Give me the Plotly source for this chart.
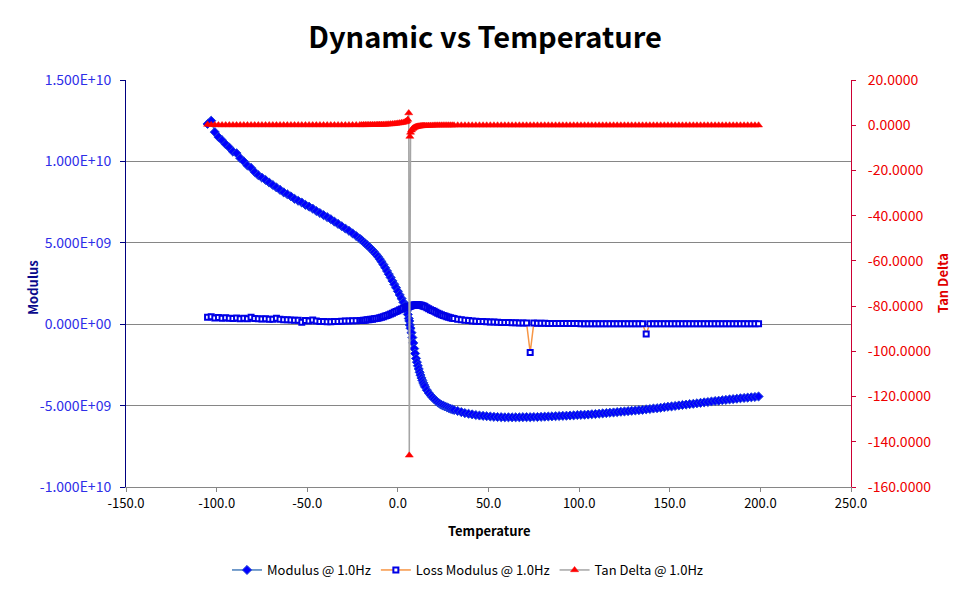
import plotly.graph_objects as go

# Temperature (deg C) sample points
temperature = [
    -105, -103, -101, -99, -97, -95, -93, -91, -89, -87,
    -85, -83, -81, -79, -77, -75, -73, -71, -69, -67,
    -65, -63, -61, -59, -57, -55, -53, -51, -49, -47,
    -45, -43, -41, -39, -37, -35, -33, -31, -29, -27,
    -25, -23,
    -21, -20, -19, -18, -17, -16, -15, -14, -13, -12,
    -11, -10, -9, -8, -7, -6, -5, -4, -3, -2,
    -1, 0, 1, 2, 3, 4, 4.5, 5, 5.5, 6, 6.3,
    6.6, 7, 7.5, 8, 8.5, 9, 9.5, 10, 10.5, 11, 11.5, 12, 12.5, 13, 13.5,
    14, 14.5, 15, 16, 17, 18, 19, 20, 21, 22, 23,
    24, 25, 26, 27, 28, 29, 30, 31,
    33, 35, 37, 39, 41, 43, 45, 47, 49, 51,
    53, 55, 57, 59, 61, 63, 65, 67, 69, 71,
    73, 75, 77, 79, 81, 83, 85, 87, 89, 91,
    93, 95, 97, 99, 101, 103, 105, 107, 109, 111,
    113, 115, 117, 119, 121, 123, 125, 127, 129, 131,
    133, 135, 137, 139, 141, 143, 145, 147, 149, 151,
    153, 155, 157, 159, 161, 163, 165, 167, 169, 171,
    173, 175, 177, 179, 181, 183, 185, 187, 189, 191,
    193, 195, 197, 199,
]

# Modulus @ 1.0Hz (Pa)
modulus = [
    12.3e9, 12.5e9, 11.8e9, 11.5e9, 11.3e9, 11.05e9, 10.85e9, 10.6e9, 10.5e9, 10.2e9,
    10.0e9, 9.75e9, 9.6e9, 9.35e9, 9.15e9, 9.0e9, 8.86e9, 8.7e9, 8.55e9, 8.4e9,
    8.25e9, 8.1e9, 7.98e9, 7.85e9, 7.7e9, 7.58e9, 7.47e9, 7.33e9, 7.22e9, 7.1e9,
    6.95e9, 6.83e9, 6.7e9, 6.58e9, 6.45e9, 6.3e9, 6.16e9, 6.02e9, 5.88e9, 5.74e9,
    5.58e9, 5.42e9,
    5.25e9, 5.16e9, 5.06e9, 4.96e9, 4.86e9, 4.76e9, 4.65e9, 4.54e9, 4.42e9, 4.29e9,
    4.15e9, 4.0e9, 3.84e9, 3.66e9, 3.47e9, 3.27e9, 3.07e9, 2.87e9, 2.66e9, 2.45e9,
    2.24e9, 2.02e9, 1.8e9, 1.58e9, 1.35e9, 1.12e9, 0.97e9, 0.82e9, 0.6e9, 0.35e9, 0.2e9,
    -0.05e9, -0.25e9, -0.52e9, -0.82e9, -1.15e9, -1.5e9, -1.8e9, -2.1e9, -2.33e9, -2.55e9, -2.75e9, -2.95e9, -3.13e9, -3.3e9, -3.45e9,
    -3.6e9, -3.73e9, -3.85e9, -4.05e9, -4.22e9, -4.36e9, -4.48e9, -4.6e9, -4.7e9, -4.8e9, -4.88e9,
    -4.95e9, -5.0e9, -5.05e9, -5.1e9, -5.15e9, -5.19e9, -5.23e9, -5.27e9,
    -5.33e9, -5.4e9, -5.46e9, -5.5e9, -5.54e9, -5.58e9, -5.61e9, -5.63e9, -5.65e9, -5.67e9,
    -5.69e9, -5.7e9, -5.71e9, -5.72e9, -5.72e9, -5.72e9, -5.72e9, -5.72e9, -5.71e9, -5.71e9,
    -5.71e9, -5.7e9, -5.7e9, -5.69e9, -5.68e9, -5.67e9, -5.66e9, -5.65e9, -5.64e9, -5.63e9,
    -5.62e9, -5.61e9, -5.6e9, -5.58e9, -5.57e9, -5.56e9, -5.55e9, -5.53e9, -5.52e9, -5.5e9,
    -5.48e9, -5.46e9, -5.44e9, -5.42e9, -5.4e9, -5.38e9, -5.36e9, -5.34e9, -5.32e9, -5.3e9,
    -5.28e9, -5.26e9, -5.23e9, -5.21e9, -5.18e9, -5.16e9, -5.13e9, -5.1e9, -5.07e9, -5.05e9,
    -5.02e9, -4.99e9, -4.96e9, -4.94e9, -4.91e9, -4.89e9, -4.86e9, -4.83e9, -4.8e9, -4.78e9,
    -4.75e9, -4.72e9, -4.7e9, -4.67e9, -4.65e9, -4.62e9, -4.6e9, -4.58e9, -4.55e9, -4.53e9,
    -4.51e9, -4.49e9, -4.47e9, -4.44e9,
]

# Loss Modulus @ 1.0Hz (Pa)
loss_modulus = [
    0.42e9, 0.46e9, 0.38e9, 0.41e9, 0.37e9, 0.4e9, 0.36e9, 0.35e9, 0.38e9, 0.33e9,
    0.36e9, 0.34e9, 0.42e9, 0.35e9, 0.33e9, 0.32e9, 0.34e9, 0.31e9, 0.3e9, 0.36e9,
    0.3e9, 0.28e9, 0.27e9, 0.26e9, 0.24e9, 0.25e9, 0.12e9, 0.22e9, 0.2e9, 0.26e9,
    0.19e9, 0.17e9, 0.16e9, 0.15e9, 0.15e9, 0.16e9, 0.17e9, 0.18e9, 0.2e9, 0.19e9,
    0.21e9, 0.21e9,
    0.22e9, 0.23e9, 0.24e9, 0.25e9, 0.27e9, 0.28e9, 0.3e9, 0.31e9, 0.33e9, 0.35e9,
    0.37e9, 0.4e9, 0.43e9, 0.46e9, 0.5e9, 0.54e9, 0.58e9, 0.63e9, 0.68e9, 0.73e9,
    0.78e9, 0.83e9, 0.88e9, 0.93e9, 0.98e9, 1.02e9, 1.035e9, 1.05e9, 1.07e9, 1.08e9, 1.09e9,
    1.1e9, 1.12e9, 1.14e9, 1.16e9, 1.17e9, 1.18e9, 1.185e9, 1.19e9, 1.19e9, 1.19e9, 1.185e9, 1.18e9, 1.17e9, 1.16e9, 1.14e9,
    1.12e9, 1.1e9, 1.07e9, 1.01e9, 0.95e9, 0.89e9, 0.84e9, 0.79e9, 0.73e9, 0.68e9, 0.63e9,
    0.58e9, 0.54e9, 0.5e9, 0.46e9, 0.43e9, 0.4e9, 0.37e9, 0.35e9,
    0.31e9, 0.27e9, 0.24e9, 0.22e9, 0.2e9, 0.18e9, 0.17e9, 0.16e9, 0.15e9, 0.14e9,
    0.13e9, 0.12e9, 0.11e9, 0.1e9, 0.1e9, 0.09e9, 0.09e9, 0.08e9, 0.08e9, 0.08e9,
    -1.74e9, 0.07e9, 0.06e9, 0.06e9, 0.06e9, 0.05e9, 0.05e9, 0.05e9, 0.05e9, 0.04e9,
    0.04e9, 0.04e9, 0.04e9, 0.04e9, 0.03e9, 0.03e9, 0.03e9, 0.03e9, 0.03e9, 0.03e9,
    0.03e9, 0.03e9, 0.02e9, 0.02e9, 0.02e9, 0.02e9, 0.02e9, 0.02e9, 0.02e9, 0.02e9,
    0.02e9, 0.02e9, -0.6e9, 0.02e9, 0.02e9, 0.02e9, 0.02e9, 0.02e9, 0.02e9, 0.02e9,
    0.02e9, 0.02e9, 0.02e9, 0.02e9, 0.02e9, 0.02e9, 0.02e9, 0.02e9, 0.02e9, 0.02e9,
    0.02e9, 0.02e9, 0.02e9, 0.02e9, 0.02e9, 0.02e9, 0.02e9, 0.02e9, 0.02e9, 0.02e9,
    0.02e9, 0.02e9, 0.02e9, 0.02e9,
]

# Tan Delta @ 1.0Hz
tan_delta = [
    0.3, 0.2, 0.15, 0.1, 0.1, 0.1, 0.1, 0.1, 0.1, 0.1,
    0.1, 0.1, 0.1, 0.1, 0.1, 0.1, 0.1, 0.1, 0.1, 0.1,
    0.1, 0.1, 0.1, 0.1, 0.1, 0.1, 0.1, 0.1, 0.1, 0.1,
    0.1, 0.1, 0.1, 0.1, 0.1, 0.1, 0.1, 0.1, 0.1, 0.1,
    0.12, 0.13,
    0.14, 0.15, 0.16, 0.17, 0.18, 0.19, 0.2, 0.22, 0.24, 0.26,
    0.28, 0.3, 0.32, 0.34, 0.37, 0.4, 0.45, 0.5, 0.58, 0.66,
    0.75, 0.85, 0.95, 1.1, 1.25, 1.5, 1.7, 1.9, 2.5, 5.4, -146.0,
    -5.0, -3.2, -2.2, -1.6, -1.3, -1.0, -0.85, -0.7, -0.6, -0.5, -0.45, -0.4, -0.35, -0.3, -0.27,
    -0.25, -0.22, -0.2, -0.15, -0.12, -0.1, -0.08, -0.06, -0.05, -0.04, -0.03,
    -0.02, 0.0, 0.0, 0.0, 0.0, 0.0, 0.0, 0.0,
    0.0, 0.0, 0.0, 0.0, 0.0, 0.0, 0.0, 0.0, 0.0, 0.0,
    0.0, 0.0, 0.0, 0.0, 0.0, 0.0, 0.0, 0.0, 0.0, 0.0,
    0.0, 0.0, 0.0, 0.0, 0.0, 0.0, 0.0, 0.0, 0.0, 0.0,
    0.0, 0.0, 0.0, 0.0, 0.0, 0.0, 0.0, 0.0, 0.0, 0.0,
    0.0, 0.0, 0.0, 0.0, 0.0, 0.0, 0.0, 0.0, 0.0, 0.0,
    0.0, 0.0, 0.0, 0.0, 0.0, 0.0, 0.0, 0.0, 0.0, 0.0,
    0.0, 0.0, 0.0, 0.0, 0.0, 0.0, 0.0, 0.0, 0.0, 0.0,
    0.0, 0.0, 0.0, 0.0, 0.0, 0.0, 0.0, 0.0, 0.0, 0.0,
    0.0, 0.0, 0.0, 0.0,
]

x_ticks = [-150, -100, -50, 0, 50, 100, 150, 200, 250]
x_tick_text = ["-150.0", "-100.0", "-50.0", "0.0", "50.0", "100.0", "150.0", "200.0", "250.0"]
y1_ticks = [-1.0e10, -5.0e9, 0.0, 5.0e9, 1.0e10, 1.5e10]
y1_tick_text = ["-1.000E+10", "-5.000E+09", "0.000E+00", "5.000E+09", "1.000E+10", "1.500E+10"]
y2_ticks = [20, 0, -20, -40, -60, -80, -100, -120, -140, -160]
y2_tick_text = ["20.0000", "0.0000", "-20.0000", "-40.0000", "-60.0000", "-80.0000",
                "-100.0000", "-120.0000", "-140.0000", "-160.0000"]

FONT = "Noto Sans CJK KR, Noto Sans, sans-serif"
W, H = 969, 592
OFF = 8  # page body margin
# plot area in page pixels: x 126..851, y 80..487
ML, MT = 126 - OFF, 80 - OFF
PW, PH = 725, 407
MR, MB = W - ML - PW, H - MT - PH


def px(xp):
    return (xp - OFF - ML) / PW


def py(yp):
    return (MT + PH - (yp - OFF)) / PH


fig = go.Figure()
fig.add_trace(go.Scatter(
    x=temperature, y=modulus, name="Modulus @ 1.0Hz", mode="lines+markers",
    line=dict(color="#4A7EBB", width=1.5),
    marker=dict(symbol="diamond", size=7, color="#0000FF", line=dict(color="#1F3FD8", width=1)),
))
fig.add_trace(go.Scatter(
    x=temperature, y=loss_modulus, name="Loss Modulus @ 1.0Hz", mode="lines+markers",
    line=dict(color="#F79646", width=1.5),
    marker=dict(symbol="square", size=5, color="#FFFFFF", line=dict(color="#0000E6", width=2)),
))
fig.add_trace(go.Scatter(
    x=temperature, y=tan_delta, name="Tan Delta @ 1.0Hz", mode="lines+markers", yaxis="y2",
    line=dict(color="#A5A5A5", width=1.5),
    marker=dict(symbol="triangle-up", size=7, color="#FF0000", line=dict(color="#FF0000", width=0.5)),
))

fig.update_layout(
    width=W, height=H,
    margin=dict(l=ML, r=MR, t=MT, b=MB, autoexpand=False),
    paper_bgcolor="white", plot_bgcolor="white",
    font=dict(family=FONT, size=13, color="#000000"),
    title=dict(text="<b>Dynamic vs Temperature</b>", x=px(485), xanchor="center", xref="paper",
               y=0.95, yanchor="middle", yref="container",
               font=dict(family=FONT, size=29, color="#000000")),
    showlegend=True,
    legend=dict(orientation="h", x=px(468), xanchor="center", y=py(570), yanchor="middle",
                font=dict(family=FONT, size=13, color="#000000")),
    xaxis=dict(range=[-150, 250], tickvals=x_ticks, ticktext=x_tick_text, showgrid=False,
               automargin=False, zeroline=False, showline=True, linecolor="#868686", linewidth=1,
               ticks="outside", ticklen=4, tickcolor="#868686",
               tickfont=dict(family=FONT, size=13, color="#000000")),
    yaxis=dict(range=[-1.0e10, 1.5e10], tickvals=y1_ticks, ticktext=y1_tick_text,
               automargin=False, showgrid=True, gridcolor="#868686", gridwidth=1, zeroline=False,
               showline=True, linecolor="#000080", linewidth=1,
               ticks="outside", ticklen=5, tickcolor="#000080", ticklabelstandoff=6,
               tickfont=dict(family=FONT, size=14, color="#2E2EE8")),
    yaxis2=dict(range=[-160, 20], tickvals=y2_ticks, ticktext=y2_tick_text, overlaying="y", side="right",
                automargin=False, showgrid=False, zeroline=False, showline=True,
                linecolor="#CC0033", linewidth=1, ticks="outside", ticklen=4, tickcolor="#CC0033",
                ticklabelstandoff=9,
                tickfont=dict(family=FONT, size=14, color="#EE0000")),
    annotations=[
        dict(text="<b>Temperature</b>", x=px(489), xref="paper", y=py(530), yref="paper",
             xanchor="center", yanchor="middle", showarrow=False,
             font=dict(family=FONT, size=13, color="#000000")),
        dict(text="<b>Modulus</b>", x=px(32), xref="paper", y=py(288), yref="paper",
             xanchor="center", yanchor="middle", textangle=-90, showarrow=False,
             font=dict(family=FONT, size=13, color="#0A0A8C")),
        dict(text="<b>Tan Delta</b>", x=px(942), xref="paper", y=py(283), yref="paper",
             xanchor="center", yanchor="middle", textangle=-90, showarrow=False,
             font=dict(family=FONT, size=13, color="#E00000")),
    ],
)

fig.write_html("out.html")
